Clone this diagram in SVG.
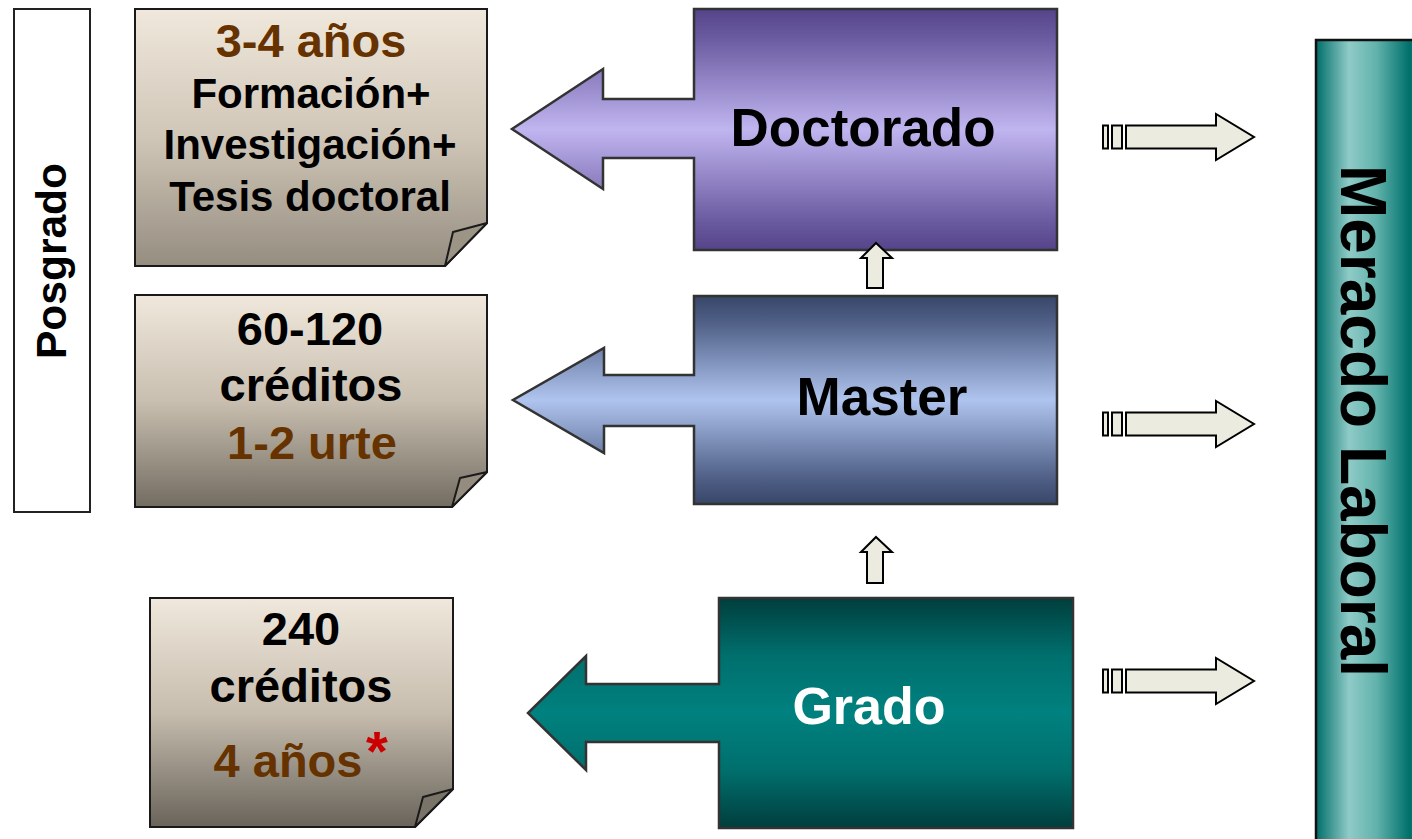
<svg xmlns="http://www.w3.org/2000/svg" width="1412" height="839" viewBox="0 0 1412 839">
<defs>
<linearGradient id="gNote1" x1="0" y1="0" x2="0" y2="1">
<stop offset="0" stop-color="#f0e8dc"/>
<stop offset="0.5" stop-color="#cfc6b7"/>
<stop offset="1" stop-color="#958d80"/>
</linearGradient>
<linearGradient id="gNote2" x1="0" y1="0" x2="0" y2="1">
<stop offset="0" stop-color="#f0e8dc"/>
<stop offset="0.5" stop-color="#c8bfb0"/>
<stop offset="1" stop-color="#736c61"/>
</linearGradient>
<linearGradient id="gNote3" x1="0" y1="0" x2="0" y2="1">
<stop offset="0" stop-color="#f0e8dc"/>
<stop offset="0.5" stop-color="#c6bdae"/>
<stop offset="1" stop-color="#69635a"/>
</linearGradient>
<linearGradient id="gDoc" x1="0" y1="0" x2="0" y2="1">
<stop offset="0" stop-color="#55448a"/>
<stop offset="0.12" stop-color="#6a5aa0"/>
<stop offset="0.5" stop-color="#c1b5f0"/>
<stop offset="0.88" stop-color="#6a5aa0"/>
<stop offset="1" stop-color="#55448a"/>
</linearGradient>
<linearGradient id="gMas" x1="0" y1="0" x2="0" y2="1">
<stop offset="0" stop-color="#384668"/>
<stop offset="0.12" stop-color="#4e5e85"/>
<stop offset="0.5" stop-color="#afc4ee"/>
<stop offset="0.88" stop-color="#4e5e85"/>
<stop offset="1" stop-color="#384668"/>
</linearGradient>
<linearGradient id="gGra" x1="0" y1="0" x2="0" y2="1">
<stop offset="0" stop-color="#003e3d"/>
<stop offset="0.25" stop-color="#006f6d"/>
<stop offset="0.5" stop-color="#00817f"/>
<stop offset="0.75" stop-color="#006f6d"/>
<stop offset="1" stop-color="#003e3d"/>
</linearGradient>
<linearGradient id="gMer" x1="0" y1="0" x2="1" y2="0">
<stop offset="0" stop-color="#006e69"/>
<stop offset="0.3" stop-color="#8fcbc7"/>
<stop offset="0.55" stop-color="#62b2ac"/>
<stop offset="0.85" stop-color="#00706b"/>
<stop offset="1" stop-color="#1f8580"/>
</linearGradient>
</defs>
<style>
.note{stroke:#1a1a1a;stroke-width:2}
.fold{stroke:#1a1a1a;stroke-width:2;stroke-linejoin:round}
.t{font-family:"Liberation Sans",Arial,sans-serif;font-weight:bold;text-anchor:middle}
.blk{fill:#000}
.brn{fill:#663300}
.sm{fill:#ecebe0;stroke:#000;stroke-width:2;stroke-linejoin:miter}
.call{stroke:#333;stroke-width:2.5;stroke-linejoin:miter}
</style>

<g id="posgrado">
<rect x="14" y="9" width="76" height="503" fill="#fff" stroke="#222" stroke-width="2"/>
<text class="t blk" font-size="42.5" transform="translate(66,261) rotate(-90)">Posgrado</text>
</g>

<g id="note-doctorado">
<path class="note" fill="url(#gNote1)" d="M135 9 H487 V223 L445 266 H135 Z"/>
<path class="fold" fill="#9c9485" d="M487 223 L453 232 L445 266 Z"/>
<text class="t brn" font-size="47" x="311" y="57">3-4 años</text>
<text class="t blk" font-size="42" x="311" y="108">Formación+</text>
<text class="t blk" font-size="42" x="310" y="159">Investigación+</text>
<text class="t blk" font-size="42" x="310" y="211">Tesis doctoral</text>
</g>

<g id="note-master">
<path class="note" fill="url(#gNote2)" d="M135 295 H487 V472 L452 507 H135 Z"/>
<path class="fold" fill="#948c7e" d="M487 472 L460 478 L452 507 Z"/>
<text class="t blk" font-size="47" x="310" y="345">60-120</text>
<text class="t blk" font-size="47" x="311" y="401">créditos</text>
<text class="t brn" font-size="47" x="312" y="459">1-2 urte</text>
</g>

<g id="note-grado">
<path class="note" fill="url(#gNote3)" d="M150 598 H453 V789 L415 827 H150 Z"/>
<path class="fold" fill="#7a7368" d="M453 789 L423 797 L415 827 Z"/>
<text class="t blk" font-size="47" x="301" y="645">240</text>
<text class="t blk" font-size="47" x="301" y="702">créditos</text>
<text class="t brn" font-size="47" x="288" y="777">4 años</text>
<text x="377" y="770" font-family="Liberation Sans,Arial,sans-serif" font-weight="bold" font-size="56" fill="#cc0000" text-anchor="middle">*</text>
</g>

<g id="doctorado">
<path class="call" fill="url(#gDoc)" d="M694 9 H1057 V250 H694 V158 H603 V189 L512 129 L603 69 V99 H694 Z"/>
<text class="t blk" font-size="53" x="863" y="146">Doctorado</text>
</g>

<g id="master">
<path class="call" fill="url(#gMas)" d="M694 296 H1057 V504 H694 V426 H604 V453 L513 400 L604 348 V375 H694 Z"/>
<text class="t blk" font-size="53" x="882" y="415">Master</text>
</g>

<g id="grado">
<path class="call" fill="url(#gGra)" d="M719 598 H1073 V828 H719 V742 H586 V770 L528 713 L586 656 V684 H719 Z"/>
<text class="t" fill="#fff" font-size="52" x="869" y="724">Grado</text>
</g>

<g id="mercado">
<rect x="1316" y="40" width="110" height="820" fill="url(#gMer)" stroke="#111" stroke-width="2.5"/>
<text class="t blk" font-size="64" transform="translate(1341,421) rotate(90)">Meracdo Laboral</text>
</g>

<g id="connectors">
<path class="sm" d="M876 243 L892 258 H883 V288 H867 V258 H861 Z"/>
<path class="sm" d="M876 537 L892 552 H883 V583 H867 V552 H861 Z"/>
<g transform="translate(1126,137)">
<path class="sm" d="M0 -11.5 H90 V-23 L128 0 L90 23 V11.5 H0 Z"/>
<rect class="sm" x="-14" y="-11.5" width="10" height="23"/>
<rect class="sm" x="-23" y="-11.5" width="5" height="23"/>
</g>
<g transform="translate(1126,424)">
<path class="sm" d="M0 -11.5 H90 V-23 L128 0 L90 23 V11.5 H0 Z"/>
<rect class="sm" x="-14" y="-11.5" width="10" height="23"/>
<rect class="sm" x="-23" y="-11.5" width="5" height="23"/>
</g>
<g transform="translate(1126,681)">
<path class="sm" d="M0 -11.5 H90 V-23 L128 0 L90 23 V11.5 H0 Z"/>
<rect class="sm" x="-14" y="-11.5" width="10" height="23"/>
<rect class="sm" x="-23" y="-11.5" width="5" height="23"/>
</g>
</g>
</svg>
